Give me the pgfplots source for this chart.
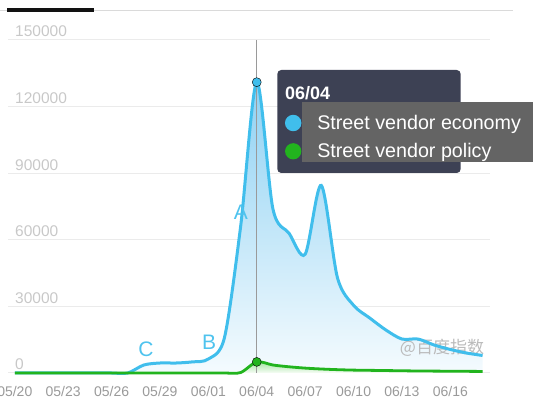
\documentclass[border=0pt]{standalone}
\usepackage{pgfplots}
\pgfplotsset{compat=1.18}
\usepackage{pgfplotstable}
\usepackage{fontspec}
\setmainfont{Liberation Sans}
\newfontfamily\cjk{Noto Sans CJK SC}
\definecolor{blueline}{HTML}{40BEEC}
\definecolor{bluetop}{HTML}{8ED1F3}
\definecolor{bluebot}{HTML}{F5FBFE}
\definecolor{greenline}{HTML}{22B41E}
\definecolor{greentop}{HTML}{9FE39A}
\definecolor{darkbox}{HTML}{3D4154}
\definecolor{graybox}{HTML}{646464}
\definecolor{gridc}{HTML}{EBEBEB}
\definecolor{xlab}{HTML}{9A9A9A}
\definecolor{ylab}{HTML}{C8C8C8}
\definecolor{vline}{HTML}{9A9A9A}
\definecolor{wmark}{HTML}{BBBBBB}
\definecolor{letterc}{HTML}{4FC3EE}
\definecolor{topline}{HTML}{DADADA}

\pgfplotstableread{
day blue green
0 0 0
1 0 0
2 0 0
3 0 0
4 0 0
5 0 0
6 0 0
7 0 0
8 3600 0
9 4500 0
10 4500 0
11 5000 0
12 6300 0
13 16000 0
14 66000 200
15 131000 5000
16 74000 3600
17 63000 2800
18 53500 2200
19 84500 1800
20 43000 1500
21 30500 1300
22 24800 1200
23 19400 1100
24 15300 1000
25 15300 900
26 12600 850
27 10600 800
28 9000 750
29 7900 700
}\datatable

\begin{document}
\begin{tikzpicture}
\path[use as bounding box] (0,0) rectangle (533pt,403pt);
\clip (0,0) rectangle (533pt,403pt);
% top decoration
\draw[topline, line width=1pt] (0pt,392.1pt) -- (513pt,392.1pt);
\fill[black!93] (6.8pt,391.4pt) rectangle (94.2pt,394.8pt);
\begin{axis}[
  at={(8.5pt,30pt)}, anchor=south west,
  scale only axis, width=481.5pt, height=333pt,
  xmin=-0.3906, xmax=29.4606, ymin=0, ymax=150000,
  clip=false,
  axis line style={draw=none},
  major tick length=0pt,
  ymajorgrids, grid style={draw=gridc, line width=1pt},
  ytick={0,30000,60000,90000,120000,150000},
  yticklabels={0,30000,60000,90000,120000,150000},
  scaled y ticks=false,
  yticklabel style={anchor=base west, inner sep=0pt, xshift=6.5pt, yshift=3pt,
     font=\fontsize{15.5}{16}\selectfont, text=ylab},
  xtick={0,3,...,27},
  xticklabels={05/20,05/23,05/26,05/29,06/01,06/04,06/07,06/10,06/13,06/16},
  xticklabel style={anchor=base, inner sep=0pt, yshift=-24pt,
     font=\fontsize{14}{14}\selectfont, text=xlab},
  legend style={at={(axis description cs:0.57425,0.77537)}, anchor=north west,
     draw=none, fill=none, inner sep=0pt, outer sep=0pt,
     row sep=10pt, column sep=15.9pt,
     font=\fontsize{19.7}{20}\selectfont, text=white,
     nodes={inner sep=0pt, text height=14pt, text depth=4pt}},
  legend cell align=left,
  legend image code/.code={\fill[#1] (6.7pt,1.2pt) circle (6.7pt);},
]
% tooltip boxes
\fill[darkbox, rounded corners=4pt] (axis cs:16.274,90090) rectangle (axis cs:27.644,136486);
\fill[graybox] (axis cs:17.787,95180) rectangle (axis cs:32.127,122207);
\node[anchor=base west, inner sep=0pt, text=white, font=\bfseries\fontsize{18}{18}\selectfont]
  at (axis cs:16.751,123288) {06/04};
% fills
\addplot[draw=none, top color=bluetop, bottom color=bluebot, smooth, forget plot]
  table[x=day,y=blue] {\datatable} \closedcycle;
\addplot[draw=none, top color=greentop, bottom color=white, smooth, forget plot]
  table[x=day,y=green] {\datatable} \closedcycle;
% watermark
\node[text=wmark, font=\cjk\fontsize{17}{17}\selectfont, inner sep=0pt] at (axis cs:26.485,11486) {@百度指数};
% vertical cursor line
\addplot[vline, line width=1.3pt, forget plot] coordinates {(15,0) (15,150000)};
% lines
\addplot[blueline, line width=3pt, smooth] table[x=day,y=blue] {\datatable};
\addlegendentry{Street vendor economy}
\addplot[greenline, line width=2.8pt, smooth] table[x=day,y=green] {\datatable};
\addlegendentry{Street vendor policy}
% hovered points
\addplot[only marks, mark=*, mark size=4.5pt, mark options={fill=blueline, draw=none}, forget plot]
  coordinates {(15,131000)};
\addplot[only marks, mark=*, mark size=4.5pt, mark options={fill=greenline, draw=none}, forget plot]
  coordinates {(15,5000)};
% annotation letters
\node[text=letterc, font=\fontsize{21}{21}\selectfont, inner sep=0pt] at (axis cs:14.02,72500) {A};
\node[text=letterc, font=\fontsize{21}{21}\selectfont, inner sep=0pt] at (axis cs:12.04,13960) {B};
\node[text=letterc, font=\fontsize{21}{21}\selectfont, inner sep=0pt] at (axis cs:8.13,10800) {C};
\end{axis}
\end{tikzpicture}
\end{document}
